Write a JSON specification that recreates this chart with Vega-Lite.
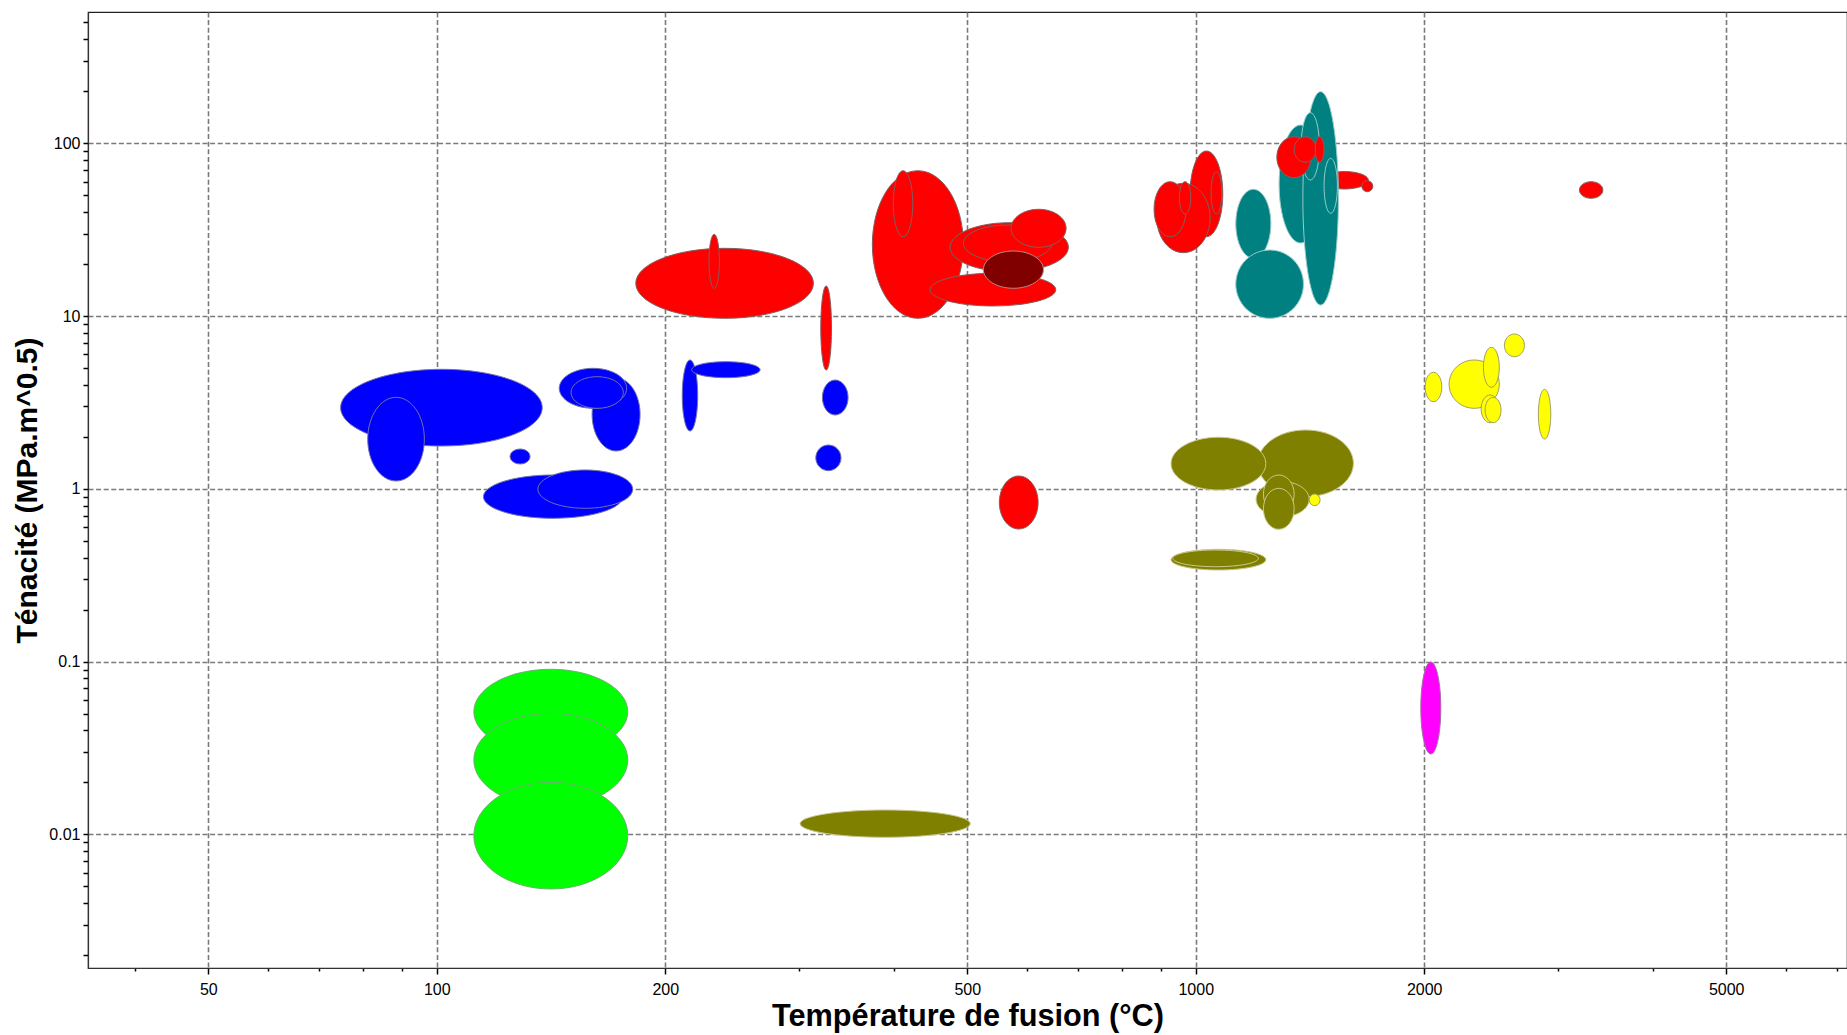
{
"$schema": "https://vega.github.io/schema/vega-lite/v6.json",
"width": 1759, "height": 956,
"autosize": {"type": "none"},
"padding": {"left": 88, "top": 12, "right": 0, "bottom": 67},
"background": "white",
"config": {"view": {"stroke": "#222222", "strokeWidth": 1.2}, "font": "Liberation Sans"},
"data": {"values": [
{"id":"e01","g":"blue","k":0,"x":74.7,"y":2.949},{"id":"e01","g":"blue","k":1,"x":101.5,"y":4.915},{"id":"e01","g":"blue","k":2,"x":137.7,"y":2.949},{"id":"e01","g":"blue","k":3,"x":101.5,"y":1.769},
{"id":"e02","g":"blue","k":0,"x":81.1,"y":1.938},{"id":"e02","g":"blue","k":1,"x":88.4,"y":3.384},{"id":"e02","g":"blue","k":2,"x":96.3,"y":1.938},{"id":"e02","g":"blue","k":3,"x":88.4,"y":1.110},
{"id":"e03","g":"blue","k":0,"x":124.9,"y":1.538},{"id":"e03","g":"blue","k":1,"x":128.8,"y":1.699},{"id":"e03","g":"blue","k":2,"x":132.7,"y":1.538},{"id":"e03","g":"blue","k":3,"x":128.8,"y":1.392},
{"id":"e04","g":"blue","k":0,"x":160.2,"y":2.692},{"id":"e04","g":"blue","k":1,"x":172.3,"y":4.377},{"id":"e04","g":"blue","k":2,"x":185.3,"y":2.692},{"id":"e04","g":"blue","k":3,"x":172.3,"y":1.655},
{"id":"e05","g":"blue","k":0,"x":145.0,"y":3.815},{"id":"e05","g":"blue","k":1,"x":160.7,"y":4.982},{"id":"e05","g":"blue","k":2,"x":177.9,"y":3.815},{"id":"e05","g":"blue","k":3,"x":160.7,"y":2.923},
{"id":"e06","g":"blue","k":0,"x":150.3,"y":3.609},{"id":"e06","g":"blue","k":1,"x":162.7,"y":4.454},{"id":"e06","g":"blue","k":2,"x":176.1,"y":3.609},{"id":"e06","g":"blue","k":3,"x":162.7,"y":2.923},
{"id":"e07","g":"blue","k":0,"x":115.2,"y":0.9007},{"id":"e07","g":"blue","k":1,"x":142.3,"y":1.202},{"id":"e07","g":"blue","k":2,"x":175.8,"y":0.9007},{"id":"e07","g":"blue","k":3,"x":142.3,"y":0.675},
{"id":"e08","g":"blue","k":0,"x":135.9,"y":0.9954},{"id":"e08","g":"blue","k":1,"x":156.9,"y":1.285},{"id":"e08","g":"blue","k":2,"x":181.2,"y":0.9954},{"id":"e08","g":"blue","k":3,"x":156.9,"y":0.7713},
{"id":"e09","g":"blue","k":0,"x":210.6,"y":3.467},{"id":"e09","g":"blue","k":1,"x":215.6,"y":5.565},{"id":"e09","g":"blue","k":2,"x":220.7,"y":3.467},{"id":"e09","g":"blue","k":3,"x":215.6,"y":2.160},
{"id":"e10","g":"blue","k":0,"x":216.7,"y":4.889},{"id":"e10","g":"blue","k":1,"x":240.4,"y":5.440},{"id":"e10","g":"blue","k":2,"x":266.7,"y":4.889},{"id":"e10","g":"blue","k":3,"x":240.4,"y":4.395},
{"id":"e11","g":"blue","k":0,"x":322.2,"y":3.375},{"id":"e11","g":"blue","k":1,"x":334.9,"y":4.262},{"id":"e11","g":"blue","k":2,"x":348.3,"y":3.375},{"id":"e11","g":"blue","k":3,"x":334.9,"y":2.674},
{"id":"e12","g":"blue","k":0,"x":315.8,"y":1.511},{"id":"e12","g":"blue","k":1,"x":328.1,"y":1.792},{"id":"e12","g":"blue","k":2,"x":340.9,"y":1.511},{"id":"e12","g":"blue","k":3,"x":328.1,"y":1.273},
{"id":"e13","g":"red","k":0,"x":182.9,"y":15.46},{"id":"e13","g":"red","k":1,"x":239.4,"y":24.65},{"id":"e13","g":"red","k":2,"x":313.5,"y":15.46},{"id":"e13","g":"red","k":3,"x":239.4,"y":9.698},
{"id":"e14","g":"red","k":0,"x":228.4,"y":20.73},{"id":"e14","g":"red","k":1,"x":232.0,"y":29.71},{"id":"e14","g":"red","k":2,"x":235.7,"y":20.73},{"id":"e14","g":"red","k":3,"x":232.0,"y":14.47},
{"id":"e15","g":"red","k":0,"x":320.6,"y":8.522},{"id":"e15","g":"red","k":1,"x":325.9,"y":14.92},{"id":"e15","g":"red","k":2,"x":331.2,"y":8.522},{"id":"e15","g":"red","k":3,"x":325.9,"y":4.869},
{"id":"e16","g":"red","k":0,"x":374.9,"y":25.93},{"id":"e16","g":"red","k":1,"x":430.4,"y":69.31},{"id":"e16","g":"red","k":2,"x":494.1,"y":25.93},{"id":"e16","g":"red","k":3,"x":430.4,"y":9.698},
{"id":"e17","g":"red","k":0,"x":399.5,"y":44.66},{"id":"e17","g":"red","k":1,"x":411.5,"y":69.31},{"id":"e17","g":"red","k":2,"x":423.8,"y":44.66},{"id":"e17","g":"red","k":3,"x":411.5,"y":28.77},
{"id":"e18","g":"red","k":0,"x":474.6,"y":25.01},{"id":"e18","g":"red","k":1,"x":567.9,"y":34.67},{"id":"e18","g":"red","k":2,"x":679.5,"y":25.01},{"id":"e18","g":"red","k":3,"x":567.9,"y":18.05},
{"id":"e19","g":"red","k":0,"x":494.1,"y":26.33},{"id":"e19","g":"red","k":1,"x":565.0,"y":33.62},{"id":"e19","g":"red","k":2,"x":646.1,"y":26.33},{"id":"e19","g":"red","k":3,"x":565.0,"y":20.62},
{"id":"e20","g":"red","k":0,"x":446.6,"y":14.21},{"id":"e20","g":"red","k":1,"x":540.5,"y":17.66},{"id":"e20","g":"red","k":2,"x":654.0,"y":14.21},{"id":"e20","g":"red","k":3,"x":540.5,"y":11.43},
{"id":"e21","g":"darkred","k":0,"x":525.1,"y":18.55},{"id":"e21","g":"darkred","k":1,"x":575.1,"y":23.78},{"id":"e21","g":"darkred","k":2,"x":630.0,"y":18.55},{"id":"e21","g":"darkred","k":3,"x":575.1,"y":14.47},
{"id":"e22","g":"red","k":0,"x":571.1,"y":32.17},{"id":"e22","g":"red","k":1,"x":620.9,"y":41.45},{"id":"e22","g":"red","k":2,"x":674.8,"y":32.17},{"id":"e22","g":"red","k":3,"x":620.9,"y":24.98},
{"id":"e23","g":"red","k":0,"x":551.1,"y":0.8333},{"id":"e23","g":"red","k":1,"x":584.5,"y":1.186},{"id":"e23","g":"red","k":2,"x":619.9,"y":0.8333},{"id":"e23","g":"red","k":3,"x":584.5,"y":0.5853},
{"id":"e24","g":"red","k":0,"x":983.0,"y":50.93},{"id":"e24","g":"red","k":1,"x":1033.0,"y":90.13},{"id":"e24","g":"red","k":2,"x":1085.5,"y":50.93},{"id":"e24","g":"red","k":3,"x":1033.0,"y":28.77},
{"id":"e25","g":"red","k":0,"x":1047.7,"y":51.61},{"id":"e25","g":"red","k":1,"x":1064.8,"y":68.40},{"id":"e25","g":"red","k":2,"x":1082.2,"y":51.61},{"id":"e25","g":"red","k":3,"x":1064.8,"y":38.94},
{"id":"e26","g":"red","k":0,"x":888.6,"y":36.92},{"id":"e26","g":"red","k":1,"x":963.3,"y":58.62},{"id":"e26","g":"red","k":2,"x":1044.5,"y":36.92},{"id":"e26","g":"red","k":3,"x":963.3,"y":23.25},
{"id":"e27","g":"red","k":0,"x":881.3,"y":41.51},{"id":"e27","g":"red","k":1,"x":925.1,"y":59.89},{"id":"e27","g":"red","k":2,"x":971.1,"y":41.51},{"id":"e27","g":"red","k":3,"x":925.1,"y":28.77},
{"id":"e28","g":"red","k":0,"x":951.6,"y":48.28},{"id":"e28","g":"red","k":1,"x":968.2,"y":59.89},{"id":"e28","g":"red","k":2,"x":985.1,"y":48.28},{"id":"e28","g":"red","k":3,"x":968.2,"y":38.94},
{"id":"e29","g":"red","k":0,"x":1458.4,"y":61.04},{"id":"e29","g":"red","k":1,"x":1568.5,"y":68.58},{"id":"e29","g":"red","k":2,"x":1688.5,"y":61.04},{"id":"e29","g":"red","k":3,"x":1568.5,"y":54.31},
{"id":"e30","g":"red","k":0,"x":1655.2,"y":56.38},{"id":"e30","g":"red","k":1,"x":1683,"y":60.68},{"id":"e30","g":"red","k":2,"x":1711.4,"y":56.38},{"id":"e30","g":"red","k":3,"x":1683,"y":52.39},
{"id":"e31","g":"teal","k":0,"x":1129.3,"y":34.17},{"id":"e31","g":"teal","k":1,"x":1191,"y":54.10},{"id":"e31","g":"teal","k":2,"x":1256,"y":34.17},{"id":"e31","g":"teal","k":3,"x":1191,"y":21.58},
{"id":"e32","g":"teal","k":0,"x":1129.3,"y":15.29},{"id":"e32","g":"teal","k":1,"x":1251.4,"y":24.09},{"id":"e32","g":"teal","k":2,"x":1386.6,"y":15.29},{"id":"e32","g":"teal","k":3,"x":1251.4,"y":9.698},
{"id":"e33","g":"teal","k":0,"x":1287.8,"y":58.07},{"id":"e33","g":"teal","k":1,"x":1374.9,"y":127.4},{"id":"e33","g":"teal","k":2,"x":1467.2,"y":58.07},{"id":"e33","g":"teal","k":3,"x":1374.9,"y":26.46},
{"id":"e34","g":"teal","k":0,"x":1384.1,"y":47.96},{"id":"e34","g":"teal","k":1,"x":1460.5,"y":198.7},{"id":"e34","g":"teal","k":2,"x":1541.6,"y":47.96},{"id":"e34","g":"teal","k":3,"x":1460.5,"y":11.58},
{"id":"e35","g":"teal","k":0,"x":1377,"y":95.89},{"id":"e35","g":"teal","k":1,"x":1415.8,"y":150.1},{"id":"e35","g":"teal","k":2,"x":1455.2,"y":95.89},{"id":"e35","g":"teal","k":3,"x":1415.8,"y":61.24},
{"id":"e36","g":"teal","k":0,"x":1476,"y":56.68},{"id":"e36","g":"teal","k":1,"x":1506.1,"y":81.76},{"id":"e36","g":"teal","k":2,"x":1537,"y":56.68},{"id":"e36","g":"teal","k":3,"x":1506.1,"y":39.30},
{"id":"e37","g":"red","k":0,"x":1279,"y":82.98},{"id":"e37","g":"red","k":1,"x":1347,"y":109.0},{"id":"e37","g":"red","k":2,"x":1419,"y":82.98},{"id":"e37","g":"red","k":3,"x":1347,"y":63.15},
{"id":"e38","g":"red","k":0,"x":1348,"y":91.94},{"id":"e38","g":"red","k":1,"x":1394,"y":109.0},{"id":"e38","g":"red","k":2,"x":1441,"y":91.94},{"id":"e38","g":"red","k":3,"x":1394,"y":77.53},
{"id":"e39","g":"red","k":0,"x":1437,"y":91.94},{"id":"e39","g":"red","k":1,"x":1456,"y":109.0},{"id":"e39","g":"red","k":2,"x":1476,"y":91.94},{"id":"e39","g":"red","k":3,"x":1456,"y":77.53},
{"id":"e40","g":"red","k":0,"x":3203,"y":53.59},{"id":"e40","g":"red","k":1,"x":3319,"y":59.89},{"id":"e40","g":"red","k":2,"x":3439,"y":53.59},{"id":"e40","g":"red","k":3,"x":3319,"y":47.99},
{"id":"e41","g":"olive","k":0,"x":1207.3,"y":1.404},{"id":"e41","g":"olive","k":1,"x":1395.9,"y":2.189},{"id":"e41","g":"olive","k":2,"x":1613.5,"y":1.404},{"id":"e41","g":"olive","k":3,"x":1395.9,"y":0.9001},
{"id":"e42","g":"olive","k":0,"x":927.9,"y":1.398},{"id":"e42","g":"olive","k":1,"x":1071.3,"y":1.987},{"id":"e42","g":"olive","k":2,"x":1237,"y":1.398},{"id":"e42","g":"olive","k":3,"x":1071.3,"y":0.9842},
{"id":"e43","g":"olive","k":0,"x":1201,"y":0.8707},{"id":"e43","g":"olive","k":1,"x":1301.5,"y":1.099},{"id":"e43","g":"olive","k":2,"x":1410.8,"y":0.8707},{"id":"e43","g":"olive","k":3,"x":1301.5,"y":0.6896},
{"id":"e44","g":"olive","k":0,"x":1228,"y":0.9312},{"id":"e44","g":"olive","k":1,"x":1286.4,"y":1.202},{"id":"e44","g":"olive","k":2,"x":1348,"y":0.9312},{"id":"e44","g":"olive","k":3,"x":1286.4,"y":0.7215},
{"id":"e45","g":"olive","k":0,"x":1228,"y":0.7663},{"id":"e45","g":"olive","k":1,"x":1286.4,"y":1.0067},{"id":"e45","g":"olive","k":2,"x":1348,"y":0.7663},{"id":"e45","g":"olive","k":3,"x":1286.4,"y":0.5830},
{"id":"e46","g":"yellow","k":0,"x":1410.8,"y":0.8632},{"id":"e46","g":"yellow","k":1,"x":1434.5,"y":0.9331},{"id":"e46","g":"yellow","k":2,"x":1458.4,"y":0.8632},{"id":"e46","g":"yellow","k":3,"x":1434.5,"y":0.7985},
{"id":"e47","g":"olive","k":0,"x":927.9,"y":0.3890},{"id":"e47","g":"olive","k":1,"x":1071.3,"y":0.4466},{"id":"e47","g":"olive","k":2,"x":1237,"y":0.3890},{"id":"e47","g":"olive","k":3,"x":1071.3,"y":0.3389},
{"id":"e48","g":"olive","k":0,"x":932.7,"y":0.3958},{"id":"e48","g":"olive","k":1,"x":1062.1,"y":0.4424},{"id":"e48","g":"olive","k":2,"x":1209.5,"y":0.3958},{"id":"e48","g":"olive","k":3,"x":1062.1,"y":0.3541},
{"id":"e49","g":"olive","k":0,"x":301.1,"y":0.01154},{"id":"e49","g":"olive","k":1,"x":389.7,"y":0.01384},{"id":"e49","g":"olive","k":2,"x":504.5,"y":0.01154},{"id":"e49","g":"olive","k":3,"x":389.7,"y":0.009622},
{"id":"e50","g":"green","k":0,"x":111.9,"y":0.05130},{"id":"e50","g":"green","k":1,"x":141.3,"y":0.09026},{"id":"e50","g":"green","k":2,"x":178.5,"y":0.05130},{"id":"e50","g":"green","k":3,"x":141.3,"y":0.02919},
{"id":"e51","g":"green","k":0,"x":111.9,"y":0.02695},{"id":"e51","g":"green","k":1,"x":141.3,"y":0.05022},{"id":"e51","g":"green","k":2,"x":178.5,"y":0.02695},{"id":"e51","g":"green","k":3,"x":141.3,"y":0.01446},
{"id":"e52","g":"green","k":0,"x":111.9,"y":0.009835},{"id":"e52","g":"green","k":1,"x":141.3,"y":0.02002},{"id":"e52","g":"green","k":2,"x":178.5,"y":0.009835},{"id":"e52","g":"green","k":3,"x":141.3,"y":0.004832},
{"id":"e53","g":"magenta","k":0,"x":1979.5,"y":0.05389},{"id":"e53","g":"magenta","k":1,"x":2040.5,"y":0.09947},{"id":"e53","g":"magenta","k":2,"x":2103.3,"y":0.05389},{"id":"e53","g":"magenta","k":3,"x":2040.5,"y":0.02919},
{"id":"e54","g":"yellow","k":0,"x":2005.6,"y":3.882},{"id":"e54","g":"yellow","k":1,"x":2057,"y":4.722},{"id":"e54","g":"yellow","k":2,"x":2109.7,"y":3.882},{"id":"e54","g":"yellow","k":3,"x":2057,"y":3.192},
{"id":"e55","g":"yellow","k":0,"x":2157,"y":4.033},{"id":"e55","g":"yellow","k":1,"x":2328,"y":5.565},{"id":"e55","g":"yellow","k":2,"x":2512,"y":4.033},{"id":"e55","g":"yellow","k":3,"x":2328,"y":2.923},
{"id":"e56","g":"yellow","k":0,"x":2393.5,"y":5.049},{"id":"e56","g":"yellow","k":1,"x":2452.3,"y":6.590},{"id":"e56","g":"yellow","k":2,"x":2512,"y":5.049},{"id":"e56","g":"yellow","k":3,"x":2452.3,"y":3.867},
{"id":"e57","g":"yellow","k":0,"x":2377,"y":2.902},{"id":"e57","g":"yellow","k":1,"x":2442.6,"y":3.490},{"id":"e57","g":"yellow","k":2,"x":2509.7,"y":2.902},{"id":"e57","g":"yellow","k":3,"x":2442.6,"y":2.413},
{"id":"e58","g":"yellow","k":0,"x":2406,"y":2.858},{"id":"e58","g":"yellow","k":1,"x":2465,"y":3.384},{"id":"e58","g":"yellow","k":2,"x":2525,"y":2.858},{"id":"e58","g":"yellow","k":3,"x":2465,"y":2.413},
{"id":"e59","g":"yellow","k":0,"x":2551,"y":6.764},{"id":"e59","g":"yellow","k":1,"x":2629.7,"y":7.866},{"id":"e59","g":"yellow","k":2,"x":2710.7,"y":6.764},{"id":"e59","g":"yellow","k":3,"x":2629.7,"y":5.815},
{"id":"e60","g":"yellow","k":0,"x":2828,"y":2.704},{"id":"e60","g":"yellow","k":1,"x":2881.7,"y":3.765},{"id":"e60","g":"yellow","k":2,"x":2936.4,"y":2.704},{"id":"e60","g":"yellow","k":3,"x":2881.7,"y":1.942}
]},
"mark": {"type": "line", "interpolate": "cardinal-closed", "tension": -0.657, "strokeWidth": 1},
"encoding": {
"x": {"field": "x", "type": "quantitative",
 "scale": {"type": "log", "domain": [34.71, 7213], "nice": false},
 "axis": {
  "values": [40,50,60,70,80,90,100,200,300,400,500,600,700,800,900,1000,2000,3000,4000,5000,6000,7000],
  "labelExpr": "indexof([50,100,200,500,1000,2000,5000], datum.value) >= 0 ? '' + datum.value : ''",
  "grid": true, "gridColor": "#7a7a7a", "gridDash": [5, 2.6], "gridWidth": 1.6,
  "gridOpacity": {"condition": {"test": "indexof([50,100,200,500,1000,2000,5000], datum.value) >= 0", "value": 1}, "value": 0},
  "ticks": true, "tickColor": "black", "tickWidth": 1.5,
  "tickSize": {"condition": {"test": "indexof([50,100,200,500,1000,2000,5000], datum.value) >= 0", "value": 6}, "value": 3},
  "domainColor": "#333333", "domainWidth": 1.2,
  "labelFont": "Liberation Sans", "labelFontSize": 16, "labelColor": "black", "labelPadding": 7, "labelFlush": false, "labelOverlap": false,
  "title": "Température de fusion (°C)", "titleFont": "Liberation Sans", "titleFontSize": 30.7, "titleFontWeight": "bold", "titleColor": "black", "titlePadding": 4
 }},
"y": {"field": "y", "type": "quantitative",
 "scale": {"type": "log", "domain": [0.001686, 574.5], "nice": false},
 "axis": {
  "values": [0.002,0.003,0.004,0.005,0.006,0.007,0.008,0.009,0.01,0.02,0.03,0.04,0.05,0.06,0.07,0.08,0.09,0.1,0.2,0.3,0.4,0.5,0.6,0.7,0.8,0.9,1,2,3,4,5,6,7,8,9,10,20,30,40,50,60,70,80,90,100,200,300,400,500],
  "labelExpr": "indexof([0.01,0.1,1,10,100], datum.value) >= 0 ? '' + datum.value : ''",
  "grid": true, "gridColor": "#7a7a7a", "gridDash": [5, 2.6], "gridWidth": 1.6,
  "gridOpacity": {"condition": {"test": "indexof([0.01,0.1,1,10,100], datum.value) >= 0", "value": 1}, "value": 0},
  "ticks": true, "tickColor": "black", "tickWidth": 1.5, "tickSize": 5,
  "domainColor": "#333333", "domainWidth": 1.2,
  "labelFont": "Liberation Sans", "labelFontSize": 16, "labelColor": "black", "labelPadding": 3, "labelOverlap": false, "labelFlush": false,
  "title": "Ténacité (MPa.m^0.5)", "titleFont": "Liberation Sans", "titleFontSize": 30, "titleFontWeight": "bold", "titleColor": "black", "titlePadding": 6
 }},
"detail": {"field": "id"},
"order": {"field": "k", "type": "quantitative"},
"fill": {"field": "g", "type": "nominal", "legend": null,
 "scale": {"domain": ["blue","red","darkred","teal","olive","green","yellow","magenta"],
           "range": ["#0000ff","#ff0000","#800000","#008080","#808000","#00ff00","#ffff00","#ff00ff"]}},
"stroke": {"field": "g", "type": "nominal", "legend": null,
 "scale": {"domain": ["blue","red","darkred","teal","olive","green","yellow","magenta"],
           "range": ["#7272a8","#806060","#b09090","#99cccc","#c8c890","#70b070","#a0a060","#a070a0"]}}
}
}
